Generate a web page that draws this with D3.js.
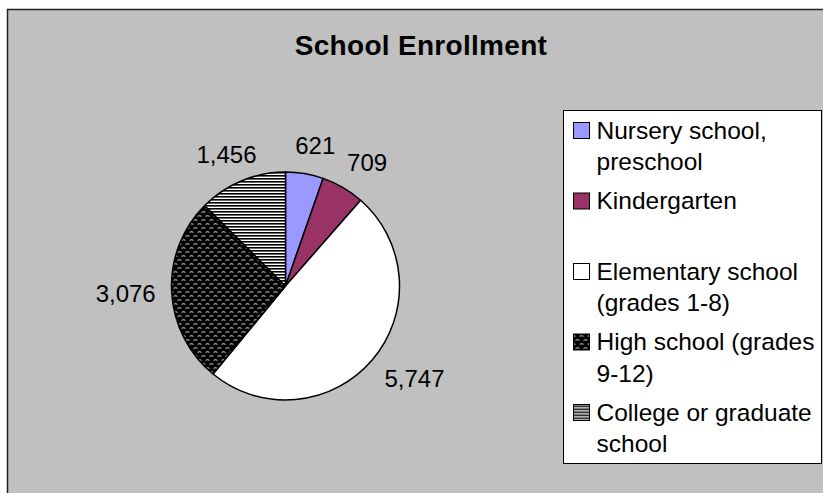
<!DOCTYPE html>
<html>
<head>
<meta charset="utf-8">
<script src="https://cdn.jsdelivr.net/npm/d3@7"></script>
<style>
  body { margin: 0; background: #fff; }
  text { font-family: "Liberation Sans", Arial, sans-serif; }
</style>
</head>
<body>
<script>
// School enrollment pie chart

var categories = [
    "Nursery school, preschool",
    "Kindergarten",
    "Elementary school (grades 1-8)",
    "High school (grades 9-12)",
    "College or graduate school"
];
var values = [621, 709, 5747, 3076, 1456];

// legend text as it wraps in the box
var legendLines = [
    ["Nursery school,", "preschool"],
    ["Kindergarten"],
    ["Elementary school", "(grades 1-8)"],
    ["High school (grades", "9-12)"],
    ["College or graduate", "school"]
];

var fills = ["#9999ff", "#993366", "#ffffff", "url(#weave)", "url(#stripes)"];

function init() {
    var w = 823;
    var h = 493;

    var svg = d3.select("body")
                .append("svg")
                .attr("width", w)
                .attr("height", h);

    var defs = svg.append("defs");

    // dark weave pattern for high school
    var weave = defs.append("pattern")
        .attr("id", "weave")
        .attr("patternUnits", "userSpaceOnUse")
        .attr("width", 8)
        .attr("height", 8);
    weave.append("rect").attr("width", 8).attr("height", 8).attr("fill", "#000");
    weave.append("path")
        .attr("d", "M0,3 Q2,0 4,3 M4,7 Q6,4 8,7")
        .attr("stroke", "#8c8c8c")
        .attr("stroke-width", 1.3)
        .attr("fill", "none");

    // horizontal stripes for college
    var stripes = defs.append("pattern")
        .attr("id", "stripes")
        .attr("patternUnits", "userSpaceOnUse")
        .attr("width", 3)
        .attr("height", 3);
    stripes.append("rect").attr("width", 3).attr("height", 3).attr("fill", "#fff");
    stripes.append("rect").attr("width", 3).attr("height", 1.6).attr("fill", "#000");

    // chart area
    svg.append("rect")
        .attr("x", 7.5)
        .attr("y", 9.5)
        .attr("width", 900)
        .attr("height", 600)
        .attr("fill", "#c0c0c0")
        .attr("stroke", "#222")
        .attr("stroke-width", 1.5);

    // title
    svg.append("text")
        .attr("x", 421)
        .attr("y", 55)
        .attr("text-anchor", "middle")
        .attr("font-size", "28px")
        .attr("font-weight", "bold")
        .attr("letter-spacing", "0.3px")
        .text("School Enrollment");

    // pie
    var cx = 285.5, cy = 286, r = 114;

    var pie = d3.pie().sort(null).value(function (d) { return d; });
    var arcs = pie(values);

    var arc = d3.arc().innerRadius(0).outerRadius(r);
    var labelArc = d3.arc().innerRadius(r + 20).outerRadius(r + 20);

    var g = svg.append("g")
        .attr("transform", "translate(" + cx + "," + cy + ")");

    g.selectAll("path")
        .data(arcs)
        .enter()
        .append("path")
        .attr("d", arc)
        .attr("fill", function (d, i) { return fills[i]; })
        .attr("stroke", "#000")
        .attr("stroke-width", 1.5)
        .attr("stroke-linejoin", "round");

    // data labels outside the slices
    g.selectAll("text.val")
        .data(arcs)
        .enter()
        .append("text")
        .attr("class", "val")
        .attr("font-size", "24px")
        .attr("text-anchor", "middle")
        .text(function (d) { return d3.format(",")(d.data); })
        .each(function (d) {
            var box = this.getBBox();
            var p = labelArc.centroid(d);
            var a = (d.startAngle + d.endAngle) / 2;
            var x = p[0] + Math.sin(a) * box.width / 2 + 4;
            var y = p[1] - Math.cos(a) * 8.5;
            d3.select(this).attr("x", x).attr("y", y + 8.5);
        });

    // legend
    var lx = 563.5, ly = 110.5;
    svg.append("rect")
        .attr("x", lx)
        .attr("y", ly)
        .attr("width", 258)
        .attr("height", 353)
        .attr("fill", "#fff")
        .attr("stroke", "#000")
        .attr("stroke-width", 1);

    var item = svg.selectAll("g.item")
        .data(categories)
        .enter()
        .append("g")
        .attr("class", "item")
        .attr("transform", function (d, i) {
            return "translate(" + lx + "," + (ly + 28 + i * 70.5) + ")";
        });

    item.append("rect")
        .attr("x", 10)
        .attr("y", -16)
        .attr("width", 16)
        .attr("height", 16)
        .attr("fill", function (d, i) { return fills[i]; })
        .attr("stroke", "#000")
        .attr("stroke-width", 1);

    item.append("text")
        .attr("font-size", "24.5px")
        .selectAll("tspan")
        .data(function (d, i) { return legendLines[i]; })
        .enter()
        .append("tspan")
        .attr("x", 33)
        .attr("y", function (d, j) { return j * 31.5; })
        .text(function (d) { return d; });
}

window.onload = init;
</script>
</body>
</html>
